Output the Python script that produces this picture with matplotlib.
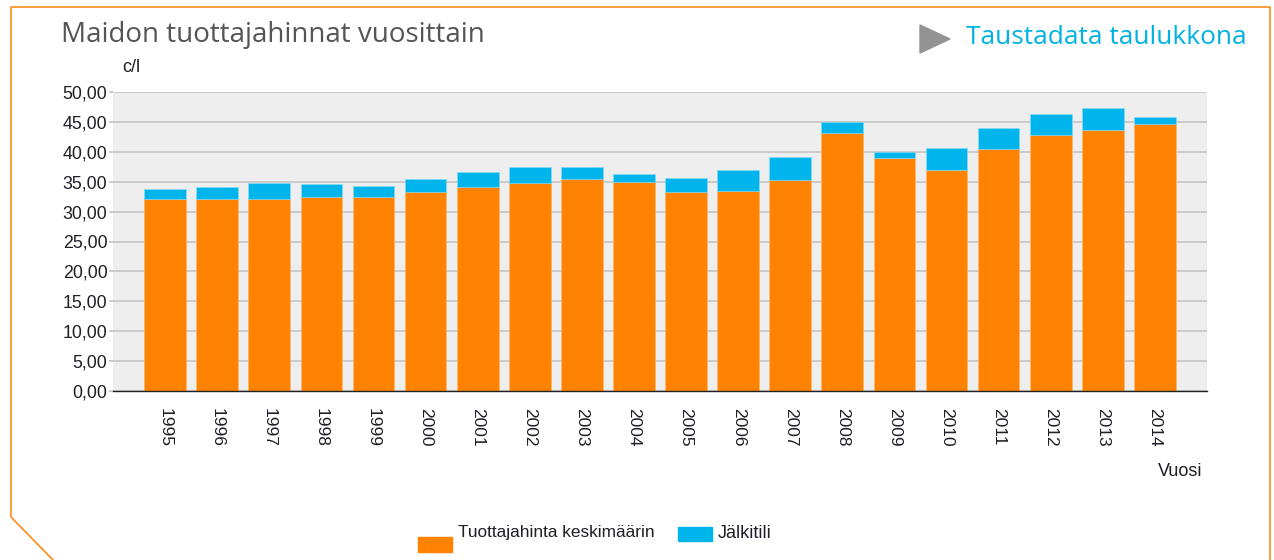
import matplotlib.pyplot as plt
from matplotlib.lines import Line2D
from matplotlib.patches import Rectangle, Polygon
from matplotlib.ticker import FuncFormatter

plt.switch_backend('agg')

# Data (c/l)
years = [str(y) for y in range(1995, 2015)]
tuottajahinta = [32.1, 32.1, 32.1, 32.4, 32.4, 33.3, 34.1, 34.8, 35.4, 35.0,
                 33.3, 33.5, 35.3, 43.1, 39.0, 37.0, 40.5, 42.8, 43.6, 44.7]
kokonais = [33.7, 34.1, 34.8, 34.6, 34.3, 35.4, 36.6, 37.4, 37.4, 36.3,
            35.7, 37.0, 39.2, 44.9, 40.0, 40.7, 44.0, 46.4, 47.3, 45.8]
jalkitili = [round(t - o, 2) for t, o in zip(kokonais, tuottajahinta)]

ORANGE = '#ff8300'
BLUE = '#00b5ec'
BORDER = '#ff8c1a'
TXT = '#1e1e28'

W, H = 1274, 560
fig = plt.figure(figsize=(W / 100, H / 100), dpi=100)
plt.rcParams['font.family'] = ['Liberation Sans', 'DejaVu Sans']


def fx(px):
    return px / W


def fy(py):
    return 1 - py / H


ax = fig.add_axes([fx(113), fy(391), fx(1207) - fx(113), fy(92) - fy(391)])
ax.set_facecolor('#eeeeee')

x = list(range(len(years)))
ax.bar(x, tuottajahinta, width=0.8, color=ORANGE, edgecolor='#ffb870', linewidth=0.4, zorder=3)
ax.bar(x, jalkitili, width=0.8, bottom=tuottajahinta, color=BLUE, edgecolor='#8adcf5',
       linewidth=0.4, zorder=3)

ax.set_xlim(-1.0, len(years) - 0.0)
ax.set_ylim(0, 50)
ax.set_yticks(range(0, 51, 5))
ax.yaxis.set_major_formatter(FuncFormatter(lambda v, p: f'{v:.2f}'.replace('.', ',')))
ax.grid(axis='y', color='#c4c4c4', linewidth=1.2, zorder=0)
ax.set_axisbelow(True)
for s in ['top', 'right', 'left']:
    ax.spines[s].set_visible(False)
ax.spines['bottom'].set_color('#222222')
ax.spines['bottom'].set_linewidth(1.0)
ax.spines['bottom'].set_zorder(4)

ax.set_xticks(x)
ax.set_xticklabels(years, rotation=270, fontsize=12.5, color=TXT)
ax.tick_params(axis='x', length=0, pad=12)
ax.tick_params(axis='y', length=3, width=1.2, color='#c4c4c4', labelsize=12.8,
               labelcolor=TXT, pad=1)

# Titles and labels
fig.text(fx(61), fy(35), 'Maidon tuottajahinnat vuosittain', family='Open Sans',
         fontsize=20, color='#555555', va='center', ha='left')
fig.text(fx(122), fy(68), 'c/l', fontsize=13, color=TXT, va='center', ha='left')
fig.text(fx(1202), fy(472), 'Vuosi', fontsize=13, color=TXT, va='center', ha='right')

# Link text with triangle
fig.patches.append(Polygon([[fx(920), fy(25)], [fx(920), fy(53)], [fx(950), fy(39)]],
                           closed=True, transform=fig.transFigure, color='#939393'))
fig.text(fx(966), fy(38), 'Taustadata taulukkona', family='Open Sans', fontsize=18.9,
         color='#00b2e2', va='center', ha='left')

# Legend
fig.patches.append(Rectangle((fx(418), fy(552)), fx(34), fy(537) - fy(552),
                             transform=fig.transFigure, color=ORANGE))
fig.text(fx(458), fy(532), 'Tuottajahinta keskimäärin', fontsize=12.4, color=TXT,
         va='center', ha='left')
fig.patches.append(Rectangle((fx(678), fy(541)), fx(34), fy(527) - fy(541),
                             transform=fig.transFigure, color=BLUE))
fig.text(fx(718), fy(534), 'Jälkitili', fontsize=13, color=TXT, va='center', ha='left')

# Orange frame with cut corner
frame = Line2D([fx(53), fx(11), fx(11), fx(1270), fx(1270)],
               [fy(560), fy(517), fy(7), fy(7), fy(560)],
               transform=fig.transFigure, color=BORDER, linewidth=1.2)
fig.lines.append(frame)

fig.savefig('out.png', dpi=100)
